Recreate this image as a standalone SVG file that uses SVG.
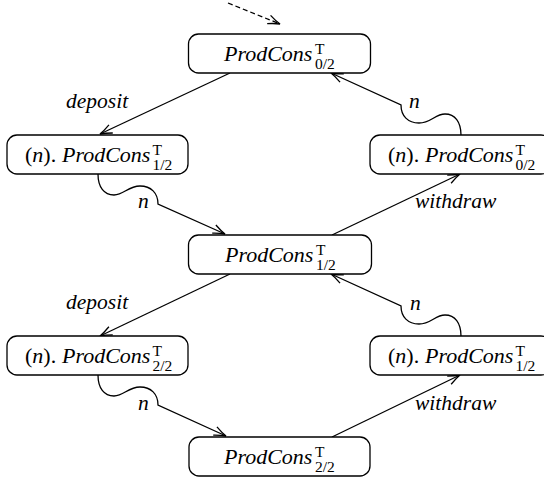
<svg xmlns="http://www.w3.org/2000/svg" width="544" height="480" viewBox="0 0 544 480">
  <style>
    .box { fill: #ffffff; stroke: #000000; stroke-width: 1.3; }
    .edge { fill: none; stroke: #000000; stroke-width: 1.3; marker-end: url(#arrow); }
    .dashed { stroke-dasharray: 5 3; }
    .t { font-family: 'Liberation Serif', 'Times New Roman', serif; font-size: 22px; fill: #000000; }
    .it { font-style: italic; }
    .sm { font-size: 15.5px; font-style: normal; }
    .lbl { font-style: italic; font-size: 21.5px; }
  </style>
  <defs>
    <!-- open, slightly curved arrow tip -->
    <marker id="arrow" markerUnits="userSpaceOnUse" markerWidth="16" markerHeight="12" viewBox="-14 -6 16 12" refX="0" refY="0" orient="auto">
      <path d="M-12,-4.5 Q-5,-1.2 0,0 Q-5,1.2 -12,4.5" fill="none" stroke="#000000" stroke-width="1.3"/>
    </marker>
  </defs>

  <!-- transitions -->
  <g id="connectors">
    <path class="edge dashed" d="M228,3 L280,24"/>
    <path class="edge" d="M230,73 L100,134"/>
    <path class="edge" d="M98,174 C98,187 104,195 114,195 C124,195 128,186 140,186 C151,186 158,193 158,204 L225,234"/>
    <path class="edge" d="M332,235 L460,174"/>
    <path class="edge" d="M461,135 C461,122 455,114 445,114 C435,114 431,123 419,123 C408,123 401,116 401,105 L331,73"/>
    <path class="edge" d="M230,274 L100,336"/>
    <path class="edge" d="M98,375 C98,388 104,396 114,396 C124,396 128,387 140,387 C151,387 158,394 158,405 L226,436"/>
    <path class="edge" d="M332,437 L460,375"/>
    <path class="edge" d="M461,336 C461,323 455,315 445,315 C435,315 431,324 419,324 C408,324 401,317 401,306 L331,274"/>

    <text class="t lbl" x="66" y="108">deposit</text>
    <text class="t lbl" x="138" y="208">n</text>
    <text class="t lbl" x="415" y="208">withdraw</text>
    <text class="t lbl" x="409" y="108">n</text>
    <text class="t lbl" x="66" y="309">deposit</text>
    <text class="t lbl" x="138" y="410">n</text>
    <text class="t lbl" x="415" y="410">withdraw</text>
    <text class="t lbl" x="410" y="310">n</text>
  </g>

  <!-- states -->
  <g id="s-top">
    <rect class="box" x="188.5" y="34" width="182" height="39" rx="10"/>
    <text class="t" x="224" y="61"><tspan class="it">ProdCons</tspan><tspan class="sm" x="315" y="54">T</tspan><tspan class="sm" x="315" y="69">0/2</tspan></text>
  </g>

  <g id="s-left1">
    <rect class="box" x="7" y="135" width="181" height="39" rx="10"/>
    <text class="t" x="25" y="162">(<tspan class="it">n</tspan>).<tspan class="it" x="62">ProdCons</tspan><tspan class="sm" x="152.5" y="155">T</tspan><tspan class="sm" x="152.5" y="170">1/2</tspan></text>
  </g>

  <g id="s-right1">
    <rect class="box" x="370" y="135" width="181" height="39" rx="10"/>
    <text class="t" x="388" y="162">(<tspan class="it">n</tspan>).<tspan class="it" x="425">ProdCons</tspan><tspan class="sm" x="515.5" y="155">T</tspan><tspan class="sm" x="515.5" y="170">0/2</tspan></text>
  </g>

  <g id="s-mid">
    <rect class="box" x="188.5" y="235" width="183" height="39" rx="10"/>
    <text class="t" x="225" y="262"><tspan class="it">ProdCons</tspan><tspan class="sm" x="316" y="255">T</tspan><tspan class="sm" x="316" y="270">1/2</tspan></text>
  </g>

  <g id="s-left2">
    <rect class="box" x="7" y="336" width="181" height="39" rx="10"/>
    <text class="t" x="25" y="363">(<tspan class="it">n</tspan>).<tspan class="it" x="62">ProdCons</tspan><tspan class="sm" x="152.5" y="356">T</tspan><tspan class="sm" x="152.5" y="371">2/2</tspan></text>
  </g>

  <g id="s-right2">
    <rect class="box" x="370" y="336" width="181" height="39" rx="10"/>
    <text class="t" x="388" y="363">(<tspan class="it">n</tspan>).<tspan class="it" x="425">ProdCons</tspan><tspan class="sm" x="515.5" y="356">T</tspan><tspan class="sm" x="515.5" y="371">1/2</tspan></text>
  </g>

  <g id="s-bottom">
    <rect class="box" x="189" y="437" width="181" height="39" rx="10"/>
    <text class="t" x="224" y="464"><tspan class="it">ProdCons</tspan><tspan class="sm" x="315" y="457">T</tspan><tspan class="sm" x="315" y="472">2/2</tspan></text>
  </g>
</svg>
